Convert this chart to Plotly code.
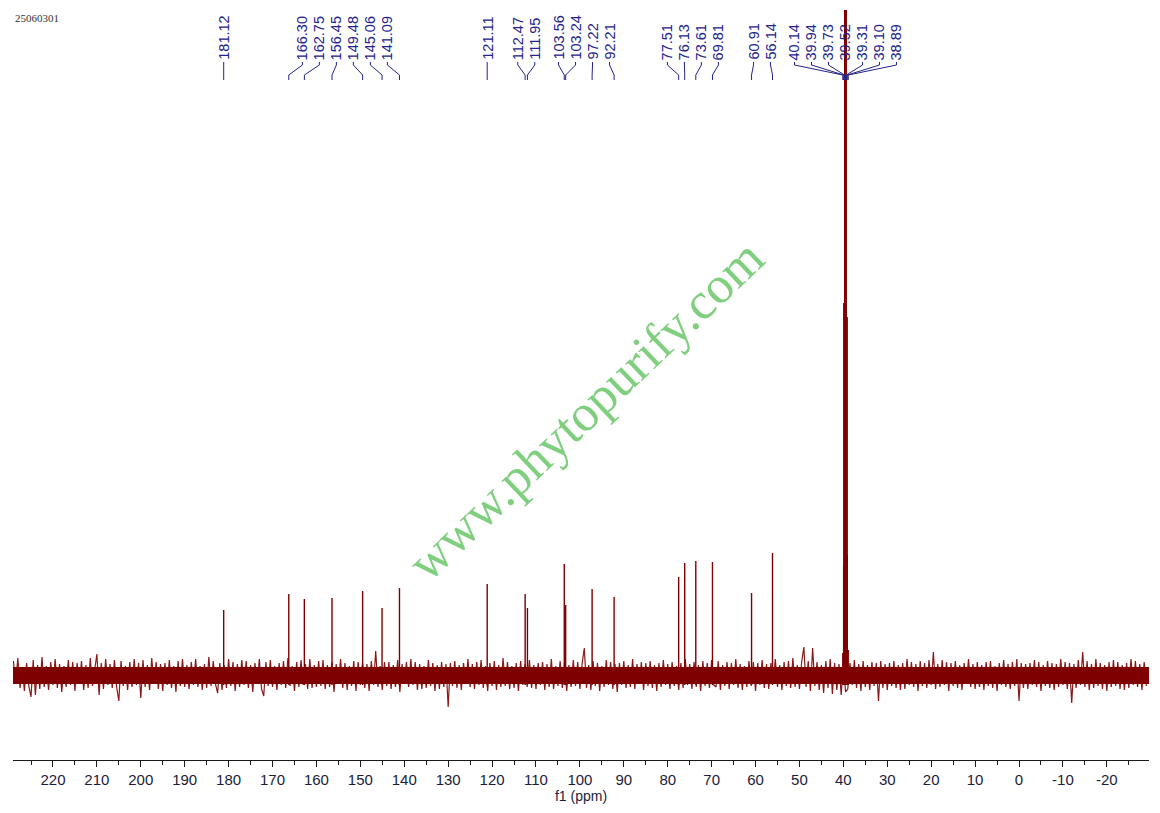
import numpy as np
import plotly.graph_objects as go


# Picos marcados (ppm) y su altura sobre la linea base.
PEAK_PPM = [
    181.12, 166.30, 162.75, 156.45, 149.48, 145.06, 141.09, 121.11, 112.47,
    111.95, 103.56, 103.24, 97.22, 92.21, 77.51, 76.13, 73.61, 69.81, 60.91,
    56.14, 40.14, 39.94, 39.73, 39.52, 39.31, 39.10, 38.89,
]

PEAK_HEIGHT = [
    65, 81, 76, 77, 84, 67, 87, 91, 81,
    67, 111, 70, 86, 78, 98, 112, 114, 113, 82,
    122, 22, 110, 372, 720, 358, 120, 25,
]

# Ruido de la linea base, un valor cada 0.5 ppm desde 229 hasta -29.
NOISE = [
    14, -9, 17, -13, 8, -16, 12, -11, -22, 15, -20, 10, -14, 18, -12, 9, -15, 13, -10, 16,
    -13, 11, -17, 9, -12, 15, -10, 13, -16, 12, -9, 14, -15, 10, -13, 17, -11, 8, 21, -20,
    12, -14, 16, -10, 11, -13, 15, -12, -26, 14, -11, 9, -15, 13, -12, 16, -10, 12, -23, 15,
    -12, 10, -15, 17, -9, 13, -14, 11, -16, 12, -10, 15, -13, 9, -17, 14, -11, 16, -12, 10,
    -14, 13, -10, 16, -12, 9, -15, 11, -13, 18, -11, 14, -9, -18, 12, -15, 10, -13, 16, -11,
    13, -16, 11, -12, 15, -10, 14, -13, 10, -17, 12, -9, 16, -14, -21, 13, -11, 15, -12, 9,
    -15, 12, -10, 14, -13, 17, -11, 9, -16, 13, -12, 15, -10, 11, -14, 16, -13, 10, -12, 14,
    -11, 15, -14, 10, -12, 13, -17, 11, -9, 16, -13, 12, -15, 9, -11, 14, -16, 13, -10, 12,
    -13, 11, -16, 14, -10, 24, -12, 9, -15, 13, -11, 13, -14, 10, -12, 15, -17, 11, -9, 13,
    -12, 16, -10, 13, -15, 11, -14, 9, -13, 15, -11, 12, -16, 10, -14, 13, -12, 11, -32, 12,
    -11, 14, -13, 10, -15, 12, -9, 16, -12, 11, -14, 13, -10, 15, -13, 9, -16, 12, -11, 14,
    -15, 10, -12, 17, -11, 13, -14, 9, -13, 12, -16, 14, -10, 11, -12, 15, -13, 10, -14, 12,
    -10, 13, -15, 11, -12, 16, -14, 9, -11, 14, -13, 12, -16, 10, -12, 15, -11, 13, -14, 11,
    27, -13, 10, -15, 14, -11, 12, -16, 9, -12, 15, -10, 13, -14, 11, -17, 12, -10, 14, -13,
    10, -12, 16, -14, 11, -9, 13, -15, 12, -11, 14, -13, 10, -16, 12, -12, 15, -10, 11, -14,
    13, -11, 9, -15, 12, -13, 16, -10, 11, -14, 13, -12, 10, -16, 14, -11, 12, -13, 15, -10,
    -12, 14, -15, 10, -11, 13, -14, 12, -10, 16, -13, 11, -15, 9, -12, 14, -11, 13, -16, 12,
    -10, 15, -13, 11, -14, 12, -9, 16, -12, 10, -15, 13, -11, 14, -13, 17, -12, 10, -14, 13,
    28, -12, 14, -16, 27, -11, 13, -15, 10, -18, 14, -13, 16, -19, 12, -15, 11, -20, 13, -17,
    -14, 12, -10, 15, -13, 11, -16, 14, -12, 10, -15, 13, -11, 12, -26, 14, -13, 11, -15, 12,
    -11, 14, -13, 10, -15, 12, -14, 16, -10, 13, -12, 11, -16, 14, -11, 12, -13, 15, -10, 23,
    -14, 11, -12, 15, -10, 13, -16, 12, -11, 14, -13, 10, -15, 12, -9, 16, -12, 11, -14, 13,
    -12, 10, -15, 13, -11, 14, -13, 9, -16, 12, -10, 15, -12, 11, -14, 13, -11, 16, -26, 12,
    -13, 11, -14, 12, -10, 15, -12, 13, -16, 10, -11, 14, -13, 12, -15, 11, -12, 16, -10, 13,
    -14, 12, -28, 11, -13, 15, -10, 23, -12, 14, -15, 11, -13, 16, -11, 12, -14, 10, -16, 13,
    -12, 15, -11, 13, -14, 10, -15, 12, -13, 16, -10, 14, -12, 11, -15, 13, -11,
]
NOISE_START = 229
NOISE_END = -29

# Banda densa del ruido (parte oscura).
BAND_PPM = [229.1, 180, 130, 80, 30, -29.6]
BAND_HI = [8, 8, 8, 8, 8, 8]
BAND_LO = [-9, -9, -9, -9, -9, -9]

TICKS = [220, 210, 200, 190, 180, 170, 160, 150, 140, 130, 120, 110, 100,
         90, 80, 70, 60, 50, 40, 30, 20, 10, 0, -10, -20]

X_LEFT = 229.1
X_RIGHT = -29.6

RED = "#7f0000"
NAVY = "#23238c"

W, H = 1160, 813
M_L, M_R, M_T, M_B = 13, 11, 10, 53
PLOT_W = W - M_L - M_R
PLOT_H = H - M_T - M_B


def paper_y(py):
    # Pixel vertical -> coordenada paper.
    return (H - M_B - py) / PLOT_H


fig = go.Figure()

# Banda del ruido.
fig.add_trace(
    go.Scatter(
        x=BAND_PPM + BAND_PPM[::-1],
        y=BAND_HI + BAND_LO[::-1],
        fill="toself",
        fillcolor=RED,
        line_width=0,
        mode="lines",
        hoverinfo="skip",
    )
)

# Ruido.
noise_x = np.linspace(NOISE_START, NOISE_END, len(NOISE))
fig.add_trace(
    go.Scatter(
        x=noise_x,
        y=NOISE,
        mode="lines",
        line=dict(color=RED, width=1.2),
        opacity=0.9,
        hoverinfo="skip",
    )
)

# Picos.
for ancho, filtro in [(1.4, lambda h: h < 300), (3, lambda h: h >= 300)]:
    xs, ys = [], []
    for p, h in zip(PEAK_PPM, PEAK_HEIGHT):
        if filtro(h):
            xs += [p, p, None]
            ys += [-10, h, None]
    fig.add_trace(
        go.Scatter(x=xs, y=ys, mode="lines", line=dict(color=RED, width=ancho), hoverinfo="skip")
    )

# Posiciones de las etiquetas: los picos cercanos se agrupan y se reparten.
px_per_ppm = PLOT_W / (X_LEFT - X_RIGHT)
step = 17 / px_per_ppm
gap = 34 / px_per_ppm

grupos = []
for p in sorted(PEAK_PPM, reverse=True):
    if grupos and grupos[-1][-1] - p < gap:
        grupos[-1].append(p)
    else:
        grupos.append([p])

for g in grupos:
    mid = np.mean(g)
    n = len(g)
    for i, p in enumerate(g):
        lx = mid + ((n - 1) / 2 - i) * step

        fig.add_annotation(
            x=lx,
            y=paper_y(62),
            xref="x",
            yref="paper",
            xanchor="center",
            yanchor="bottom",
            textangle=-90,
            text=f"{p:.2f}",
            showarrow=False,
            font=dict(family="Liberation Sans", size=14.5, color=NAVY),
        )

        fig.add_shape(
            type="path",
            xref="x",
            yref="paper",
            path=(
                f"M {lx},{paper_y(62)} L {lx},{paper_y(65)} "
                f"L {p},{paper_y(75)} L {p},{paper_y(80)}"
            ),
            line=dict(color=NAVY, width=1),
        )

fig.update_xaxes(
    range=[X_LEFT, X_RIGHT],
    tickvals=TICKS,
    ticktext=[str(t) for t in TICKS],
    ticks="outside",
    ticklen=6,
    tickwidth=1.2,
    tickcolor="#1a1a1a",
    showline=True,
    linecolor="#1a1a1a",
    linewidth=1.4,
    showgrid=False,
    zeroline=False,
    tickfont=dict(family="Liberation Sans", size=15, color="#1c1c3c"),
    minor=dict(dtick=5, tick0=0, ticks="outside", ticklen=4, tickcolor="#1a1a1a", showgrid=False),
    title=dict(text="f1 (ppm)", standoff=2, font=dict(family="Liberation Sans", size=14, color="#1c1c3c")),
)

fig.update_yaxes(range=[-85, 665], visible=False, fixedrange=True)

fig.update_layout(
    width=W,
    height=H,
    showlegend=False,
    margin=dict(l=M_L, r=M_R, t=M_T, b=M_B),
    plot_bgcolor="#FFFFFF",
    paper_bgcolor="#FFFFFF",
)

fig.add_annotation(
    x=0,
    y=paper_y(18),
    xref="paper",
    yref="paper",
    xanchor="left",
    yanchor="middle",
    text="25060301",
    showarrow=False,
    font=dict(family="Liberation Serif", size=11, color="#333333"),
)

fig.add_annotation(
    x=(585 - M_L) / PLOT_W,
    y=paper_y(410),
    xref="paper",
    yref="paper",
    textangle=-43.5,
    text="www.phytopurify.com",
    showarrow=False,
    font=dict(family="Liberation Serif", size=52, color="#7fcf7f"),
)

fig.write_html(
    "out.html",
    config={"displayModeBar": False},
    post_script="document.body.style.margin = '0px';",
)
